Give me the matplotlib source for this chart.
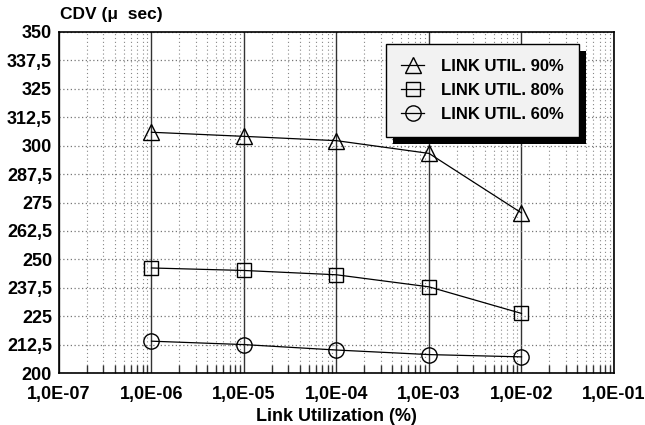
import numpy as np
import matplotlib
matplotlib.use('Agg')
import matplotlib.pyplot as plt
import matplotlib.patheffects as pe
from matplotlib.ticker import FixedLocator, FuncFormatter, LogLocator, NullFormatter

plt.rcParams['font.family'] = ['Liberation Sans', 'DejaVu Sans']
plt.rcParams['font.weight'] = 'bold'

# ── Data ──────────────────────────────────────────────────────────────────
x_vals   = [1e-6, 1e-5, 1e-4, 1e-3, 1e-2]
util_90  = [305.9, 304.1, 302.2, 296.6, 270.4]
util_80  = [246.2, 245.1, 243.2, 237.9, 226.2]
util_60  = [214.0, 212.5, 210.1, 208.1, 207.1]
labels   = ['LINK UTIL. 90%', 'LINK UTIL. 80%', 'LINK UTIL. 60%']
y_ticks  = [200, 212.5, 225, 237.5, 250, 262.5, 275, 287.5,
            300, 312.5, 325, 337.5, 350]
x_ticks  = [1e-7, 1e-6, 1e-5, 1e-4, 1e-3, 1e-2, 1e-1]

fig = plt.figure(figsize=(6.45, 4.25), dpi=100)
ax = fig.add_axes([59/645, 1 - 373/425, 555/645, 341/425])

ax.plot(x_vals, util_90, color='black', lw=0.9, marker='^', ms=11,
        mfc='none', mec='black', mew=1.0, label=labels[0])
ax.plot(x_vals, util_80, color='black', lw=0.9, marker='s', ms=10,
        mfc='none', mec='black', mew=1.0, label=labels[1])
ax.plot(x_vals, util_60, color='black', lw=0.9, marker='o', ms=11,
        mfc='none', mec='black', mew=1.0, label=labels[2])

ax.set_xscale('log')
ax.set_xlim(1e-7, 1e-1)
ax.set_ylim(200, 350)

ax.xaxis.set_major_locator(FixedLocator(x_ticks))
ax.xaxis.set_minor_locator(LogLocator(base=10, subs=np.arange(2, 10)))
ax.xaxis.set_minor_formatter(NullFormatter())
ax.xaxis.set_major_formatter(FuncFormatter(
    lambda v, p: ('%.1E' % v).replace('.', ',')))
ax.yaxis.set_major_locator(FixedLocator(y_ticks))
ax.yaxis.set_major_formatter(FuncFormatter(
    lambda v, p: ('%g' % v).replace('.', ',')))

# grid: solid decades, dotted everything else
ax.grid(True, which='major', axis='x', color='#333333', lw=1.0, ls='-')
ax.grid(True, which='minor', axis='x', color='#888888', lw=0.8, ls=(0, (1, 2.5)))
ax.grid(True, which='major', axis='y', color='#777777', lw=0.9, ls=(0, (1, 2)))
ax.set_axisbelow(True)

ax.tick_params(axis='x', which='major', length=0, pad=9, labelsize=13)
ax.tick_params(axis='x', which='minor', direction='in', length=6,
               width=1.0, color='#333333')
ax.tick_params(axis='y', which='major', length=0, pad=5, labelsize=13)
for lab in ax.get_xticklabels() + ax.get_yticklabels():
    lab.set_fontweight('bold')

for s in ax.spines.values():
    s.set_linewidth(1.2)
    s.set_color('black')

ax.set_xlabel('Link Utilization (%)', fontsize=13, fontweight='bold',
              labelpad=4)
fig.text(60/645, 1 - 14/425, 'CDV (\u03bc  sec)', fontsize=12.5,
         fontweight='bold', va='center', ha='left')

leg = ax.legend(loc='upper left', bbox_to_anchor=(0.589, 0.965),
                borderaxespad=0, fancybox=False, fontsize=12,
                handlelength=1.4, handletextpad=1.0, labelspacing=0.55,
                borderpad=0.9, framealpha=1)
frame = leg.get_frame()
frame.set_facecolor('#f2f2f2')
frame.set_edgecolor('black')
frame.set_linewidth(1.0)
frame.set_path_effects([pe.SimplePatchShadow(offset=(5, -5),
                                             shadow_rgbFace='black', alpha=1),
                        pe.Normal()])
for t in leg.get_texts():
    t.set_fontweight('bold')

plt.savefig('out.png', dpi=100)
plt.close()
